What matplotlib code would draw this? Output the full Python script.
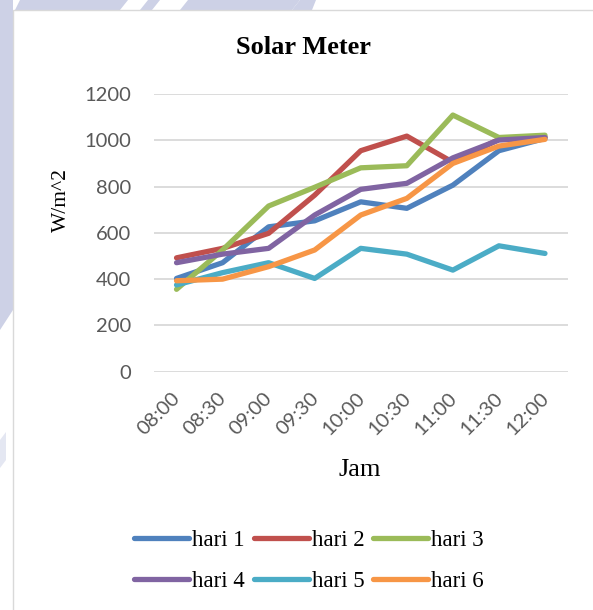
import numpy as np
import matplotlib
matplotlib.use("Agg")
import matplotlib.pyplot as plt
from matplotlib.patches import Rectangle, Polygon
from matplotlib.transforms import ScaledTranslation

# Data
jam = ["08:00", "08:30", "09:00", "09:30", "10:00", "10:30", "11:00", "11:30", "12:00"]
hari_1 = [403, 471, 626, 652, 734, 706, 806, 955, 1008]
hari_2 = [492, 533, 598, 763, 955, 1018, 905, 1004, 1015]
hari_3 = [356, 526, 716, 797, 881, 890, 1109, 1012, 1022]
hari_4 = [471, 508, 533, 677, 788, 814, 924, 1001, 1012]
hari_5 = [375, 428, 471, 403, 533, 508, 439, 544, 511]
hari_6 = [393, 400, 454, 526, 677, 749, 900, 975, 1004]

series = [hari_1, hari_2, hari_3, hari_4, hari_5, hari_6]
names = ["hari 1", "hari 2", "hari 3", "hari 4", "hari 5", "hari 6"]
colors = ["#4F81BD", "#C0504D", "#9BBB59", "#8064A2", "#4BACC6", "#F79646"]

W, H = 593, 610
fig = plt.figure(figsize=(W / 100, H / 100), dpi=100)
fig.patch.set_facecolor("white")

def px(x, y):
    return (x / W, 1 - y / H)

# background stripes behind the chart box
lav = "#cdd1e6"
shapes = [
    [(0, 0), (13, 0), (13, 310), (0, 330)],
    [(20, 0), (128, 0), (120, 10), (15, 10)],
    [(148, 0), (160, 0), (152, 10), (140, 10)],
    [(188, 0), (300, 0), (292, 10), (180, 10)],
    [(300, 0), (316, 0), (312, 10), (292, 10)],
]
for s in shapes:
    fig.add_artist(Polygon([px(*p) for p in s], closed=True, transform=fig.transFigure,
                           facecolor=lav, edgecolor="none", zorder=-3))
fig.add_artist(Polygon([px(*p) for p in [(0, 440), (6, 432), (6, 460), (0, 468)]],
                       closed=True, transform=fig.transFigure,
                       facecolor="#e4e7f2", edgecolor="none", zorder=-3))

# chart box
x0, y0 = px(13, 10)
fig.add_artist(Rectangle((x0, -0.01), 1.02 - x0, y0 + 0.01, transform=fig.transFigure,
                         facecolor="white", edgecolor="#d9d9d9", lw=1.0, zorder=-2))

ax = fig.add_axes([153.5 / W, 1 - 371.7 / H, (568 - 153.5) / W, (371.7 - 94) / H])
ax.set_facecolor("none")

x = np.arange(len(jam))
lines = []
for vals, name, c in zip(series, names, colors):
    ln, = ax.plot(x, vals, color=c, lw=3.8, label=name,
                  solid_capstyle="round", solid_joinstyle="round")
    lines.append(ln)

ax.set_xlim(-0.5, len(jam) - 0.5)
ax.set_ylim(0, 1200)
ax.set_yticks(range(0, 1201, 200))
ax.yaxis.grid(True, color="#d9d9d9", lw=1.3)
ax.set_axisbelow(True)
for sp in ax.spines.values():
    sp.set_visible(False)

tick_fam = ["Lato", "DejaVu Sans"]
ax.tick_params(axis="both", length=0, colors="#595959")
ax.tick_params(axis="y", pad=16)
ax.tick_params(axis="x", pad=13)
ax.set_xticks(x)
ax.set_xticklabels(jam, rotation=45, ha="right", va="top", fontfamily=tick_fam, fontsize=14.5)
for lab in ax.get_yticklabels():
    lab.set_fontfamily(tick_fam)
    lab.set_fontsize(14.5)
shift = ScaledTranslation(7 / 100, 0, fig.dpi_scale_trans)
for lab in ax.get_xticklabels():
    lab.set_transform(lab.get_transform() + shift)

serif = ["Liberation Serif", "DejaVu Serif"]
fig.text(304 / W, 1 - 47 / H, "Solar Meter", ha="center", va="center",
         fontfamily=serif, fontweight="bold", fontsize=19)
fig.text(61 / W, 1 - 200 / H, "W/m^2", ha="center", va="center", rotation=90,
         fontfamily=serif, fontsize=15.5)
fig.text(360 / W, 1 - 470 / H, "Jam", ha="center", va="center",
         fontfamily=serif, fontsize=19)

# legend fills column by column, so reorder to read 1-2-3 / 4-5-6 across rows
order = [0, 3, 1, 4, 2, 5]
fig.legend([lines[i] for i in order], [names[i] for i in order],
           loc="center", bbox_to_anchor=(309 / W, 1 - 561 / H), ncol=3, frameon=False,
           prop={"family": serif, "size": 16.5}, handlelength=2.4, handletextpad=0.12,
           columnspacing=0.4, labelspacing=0.9, borderpad=0)

fig.savefig("out.png", dpi=100)
